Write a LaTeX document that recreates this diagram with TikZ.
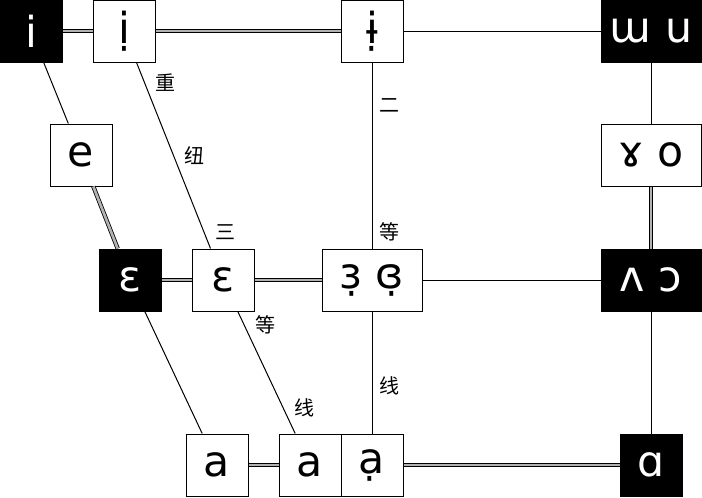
\documentclass[tikz,border=0pt]{standalone}
\usepackage{fontspec}
\setmainfont{DejaVu Sans}
\newfontfamily\zhfont{Noto Sans CJK SC}
\usetikzlibrary{positioning}

\tikzset{
  vbox/.style={draw,minimum width=46.5pt,minimum height=46.5pt,inner sep=0pt,
    font=\fontsize{32}{36}\selectfont},
  dark/.style={vbox,fill=black,text=white},
  pair/.style={minimum width=75pt},
  dbl/.style={double=black!30,double distance=2pt,line width=0.6pt},
  lbl/.style={font=\zhfont\fontsize{15}{18}\selectfont,right=5pt,inner sep=0pt},
}

\begin{document}
\begin{tikzpicture}[x=0.75pt,y=-0.75pt,line width=0.75pt]
\useasboundingbox (0,0) rectangle (702,497);

% top row
\node[dark] (i) at (31,31) {i};
\node[vbox] (idot) at (124,31) {ị};
\node[vbox] (ibar) at (372,31) {ɨ̣};
\node[dark,pair] (wu) at (651,31) {ɯ u};
% second row
\node[vbox] (e) at (81,155) {e};
\node[vbox,pair] (ro) at (651,155) {ɤ o};
% third row
\node[dark] (epsA) at (130,280) {ɛ};
\node[vbox] (epsB) at (223,280) {ɛ};
\node[vbox,pair] (rev) at (372,280) {ɜ̣ ɞ̣};
\node[dark,pair] (vo) at (651,280) {ʌ ɔ};
% bottom row
\node[vbox] (a) at (217,465) {a};
\node[vbox] (aa) at (310,465) {a};
\node[vbox] (adot) at (372,465) {ạ};
\node[dark] (alpha) at (651,465) {ɑ};

\draw[dbl] (i) -- (idot);
\draw[dbl] (idot) -- (ibar);
\draw (ibar) -- (wu);
\draw (i) -- (e);
\draw[dbl] (e) -- (epsA);
\draw (epsA) -- (a);
\draw (idot) -- node[lbl,right=8pt,pos=.11] {重} node[lbl,right=8pt,pos=.5] {纽}
  node[lbl,right=8pt,pos=.91] {三} (epsB);
\draw (epsB) -- node[lbl,right=8pt,pos=.11] {等} node[lbl,right=8pt,pos=.79] {线} (aa);
\draw (ibar) -- node[lbl,pos=.23] {二} node[lbl,pos=.91] {等} (rev);
\draw (rev) -- node[lbl,pos=.61] {线} (adot);
\draw (wu) -- (ro);
\draw[dbl] (ro) -- (vo);
\draw (vo) -- (alpha);
\draw[dbl] (epsA) -- (epsB);
\draw[dbl] (epsB) -- (rev);
\draw (rev) -- (vo);
\draw[dbl] (a) -- (aa);
\draw[dbl] (adot) -- (alpha);
\end{tikzpicture}
\end{document}
